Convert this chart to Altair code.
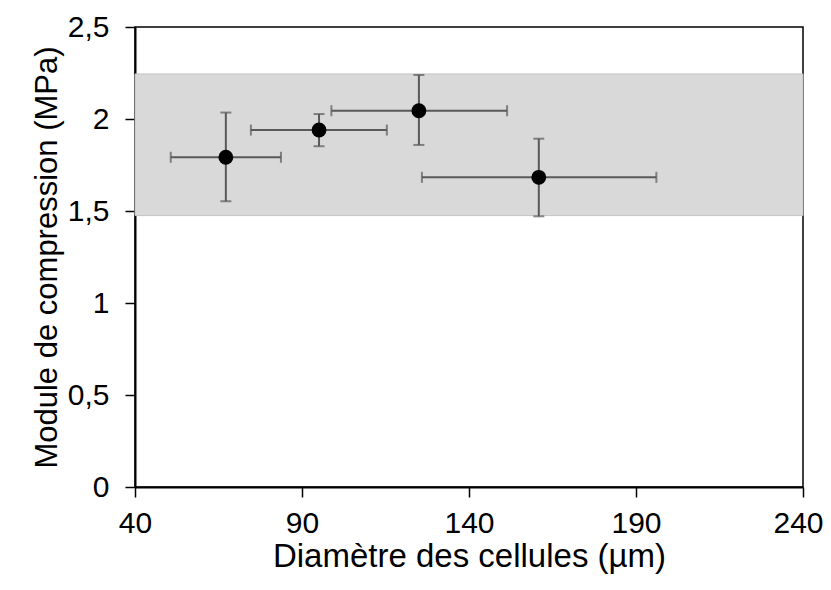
import altair as alt
import pandas as pd

# Data
diam = [67.2, 95.1, 125.0, 160.9]
diam_lo = [50.7, 74.7, 98.8, 125.9]
diam_hi = [83.7, 115.4, 151.4, 196.1]
modulus = [1.792, 1.940, 2.045, 1.683]
mod_lo = [1.553, 1.852, 1.859, 1.471]
mod_hi = [2.035, 2.027, 2.239, 1.893]

band_lo = [1.475]
band_hi = [2.245]
band_x = [40]
band_x2 = [240]

x_ticks = [40, 90, 140, 190, 240]
y_ticks = [0, 0.5, 1, 1.5, 2, 2.5]

df = pd.DataFrame({
    "x": diam, "xlo": diam_lo, "xhi": diam_hi,
    "y": modulus, "ylo": mod_lo, "yhi": mod_hi,
})
band_df = pd.DataFrame({"x": band_x, "x2": band_x2, "lo": band_lo, "hi": band_hi})

W, H = 668, 460
FONT = "Liberation Sans"

xscale = alt.Scale(domain=[40, 240], nice=False, zero=False)
yscale = alt.Scale(domain=[0, 2.5], nice=False)

xaxis = alt.Axis(
    title="Diamètre des cellules (µm)", values=x_ticks, grid=False,
    tickSize=10, labelPadding=11, titlePadding=2,
    labelFontSize=30, titleFontSize=33, labelFlush=False, labelOverlap=False,
    labelOffset=alt.expr("datum.value == 240 ? -5 : 0"),
)
yaxis = alt.Axis(
    title="Module de compression (MPa)", values=y_ticks, grid=False,
    tickSize=10, labelPadding=16, titlePadding=4,
    labelFontSize=30, titleFontSize=31, labelFlush=False, labelOverlap=False,
    labelExpr="replace(toString(datum.value), '.', ',')",
)

band = alt.Chart(band_df).mark_rect(
    color="#d9d9d9", stroke="#c4c4c4", strokeWidth=1
).encode(
    x=alt.X("x:Q", scale=xscale, axis=xaxis),
    x2="x2:Q",
    y=alt.Y("lo:Q", scale=yscale, axis=yaxis),
    y2="hi:Q",
)

EB = "#595959"
base = alt.Chart(df)

hbar = base.mark_rule(color=EB, strokeWidth=2).encode(
    x=alt.X("xlo:Q", scale=xscale), x2="xhi:Q", y=alt.Y("y:Q", scale=yscale)
)
vbar = base.mark_rule(color=EB, strokeWidth=2).encode(
    x=alt.X("x:Q", scale=xscale), y=alt.Y("ylo:Q", scale=yscale), y2="yhi:Q"
)
cap_xlo = base.mark_tick(color=EB, thickness=2, size=11, orient="vertical").encode(
    x=alt.X("xlo:Q", scale=xscale), y=alt.Y("y:Q", scale=yscale)
)
cap_xhi = base.mark_tick(color=EB, thickness=2, size=11, orient="vertical").encode(
    x=alt.X("xhi:Q", scale=xscale), y=alt.Y("y:Q", scale=yscale)
)
cap_ylo = base.mark_tick(color=EB, thickness=2, size=11, orient="horizontal").encode(
    x=alt.X("x:Q", scale=xscale), y=alt.Y("ylo:Q", scale=yscale)
)
cap_yhi = base.mark_tick(color=EB, thickness=2, size=11, orient="horizontal").encode(
    x=alt.X("x:Q", scale=xscale), y=alt.Y("yhi:Q", scale=yscale)
)
pts = base.mark_circle(color="black", opacity=1, size=220).encode(
    x=alt.X("x:Q", scale=xscale), y=alt.Y("y:Q", scale=yscale)
)

chart = alt.layer(
    band, hbar, vbar, cap_xlo, cap_xhi, cap_ylo, cap_yhi, pts
).properties(
    width=W, height=H,
    autosize=alt.AutoSizeParams(type="none"),
    padding={"left": 127, "top": 19, "right": 20, "bottom": 90},
).configure_view(
    stroke="black", strokeWidth=1.5
).configure_axis(
    labelFont=FONT, titleFont=FONT,
    labelColor="#000000", titleColor="#000000",
    titleFontWeight="normal",
    domainColor="#000000", tickColor="#000000",
    domainWidth=2, tickWidth=1.5,
)

chart.save("out.html", embed_options={"renderer": "svg", "actions": False})
